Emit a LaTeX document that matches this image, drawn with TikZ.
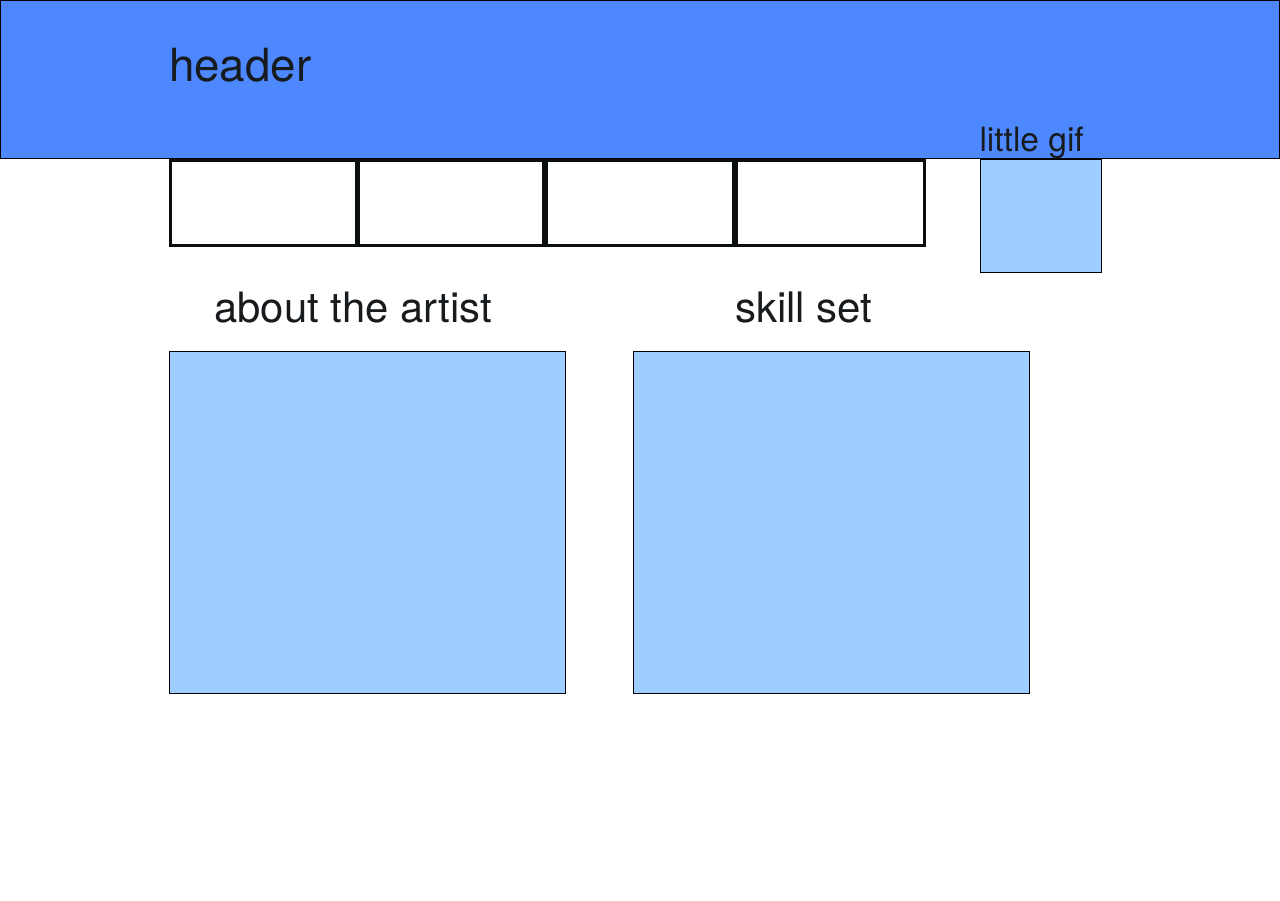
\documentclass[tikz,border=0pt]{standalone}
\usepackage{fontspec}
\setmainfont{TeX Gyre Heros}
\definecolor{headblue}{RGB}{77,136,255}
\definecolor{lightblue}{RGB}{159,205,255}
\definecolor{ink}{RGB}{24,27,30}
\definecolor{navline}{RGB}{12,15,16}
\begin{document}
\begin{tikzpicture}[x=1pt,y=-1pt,
  panel/.style={draw=black,line width=1pt,fill=lightblue,inner sep=0pt,outer sep=0pt,anchor=north west},
  navbox/.style={draw=navline,line width=3.2pt,fill=white,inner sep=0pt,outer sep=0pt,anchor=north west,minimum height=85pt},
  label/.style={text=ink,inner sep=0pt,outer sep=0pt,anchor=base west}
]
\useasboundingbox (0,0) rectangle (1280,900);
\fill[white] (0,0) rectangle (1280,900);
% header
\node[draw=black,line width=1pt,fill=headblue,inner sep=0pt,outer sep=0pt,anchor=north west,
  minimum width=1279pt,minimum height=158pt] (header) at (0.5,0.5) {};
% nav boxes
\node[navbox,minimum width=186.5pt] (nav1) at (170.5,160.5) {};
\node[navbox,minimum width=185.5pt] (nav2) at (358.5,160.5) {};
\node[navbox,minimum width=187.5pt] (nav3) at (546.5,160.5) {};
\node[navbox,minimum width=188pt] (nav4) at (736.5,160.5) {};
% little gif box
\node[panel,minimum width=121pt,minimum height=113pt] (gif) at (980.5,159.5) {};
% content panels
\node[panel,minimum width=396pt,minimum height=342pt] (about) at (169.5,351.5) {};
\node[panel,minimum width=396pt,minimum height=342pt] (skills) at (633.5,351.5) {};
% labels
\node[label,font=\fontsize{45.7}{54}\selectfont] (headertext) at (169,81) {header};
\node[label,font=\fontsize{33.5}{40}\selectfont] (giftext) at (979.5,151) {little gif};
\node[label,font=\fontsize{41.8}{50}\selectfont] (abouttext) at (214.5,322) {about the artist};
\node[label,font=\fontsize{42}{50}\selectfont] (skilltext) at (735,322) {skill set};
\end{tikzpicture}
\end{document}
